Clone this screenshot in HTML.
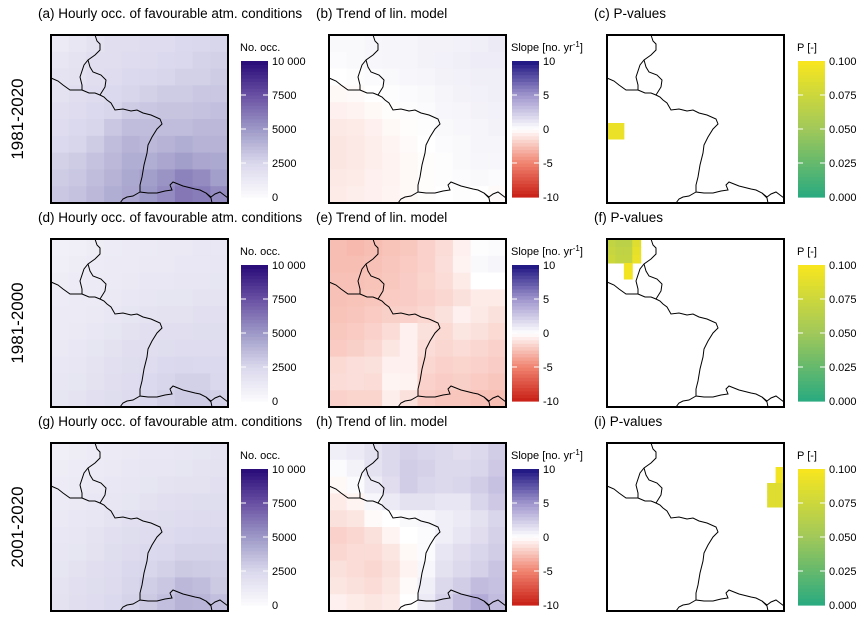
<!DOCTYPE html>
<html><head><meta charset="utf-8">
<style>
body{margin:0;background:#fff;width:862px;height:619px;overflow:hidden;font-family:"Liberation Sans",sans-serif;}
svg{display:block}
</style></head>
<body>
<svg id="fig" width="862" height="619" viewBox="0 0 862 619" xmlns="http://www.w3.org/2000/svg"></svg>
<script>
// ---------- data ----------
const periods = ["1981-2020","1981-2000","2001-2020"];
const occTicks = [0,2500,5000,7500,10000];
const occTickLabels = ["0","2500","5000","7500","10 000"];
const slopeTicks = [-10,-5,0,5,10];
const pTicks = [0,0.025,0.05,0.075,0.1];
const pTickLabels = ["0.000","0.025","0.050","0.075","0.100"];
// occurrences (hundreds), 10x10 grid, row 0 = top
const occ1 = [
[12,15,18,20,20,22,22,24,25,26],
[15,17,20,20,22,23,24,25,27,28],
[17,18,20,22,24,25,26,28,28,30],
[18,20,22,24,26,28,30,30,32,32],
[20,22,24,26,30,32,33,33,34,35],
[22,24,26,32,36,36,36,36,38,38],
[24,26,30,36,40,38,40,42,40,40],
[28,30,34,38,42,42,45,48,45,44],
[30,32,36,40,44,48,52,58,55,48],
[32,34,38,42,45,50,55,62,60,55]];
const occ2 = [
[8,9,10,11,12,12,13,13,14,14],
[9,10,11,12,12,13,13,14,14,15],
[10,11,12,12,13,14,14,15,15,16],
[11,12,12,13,14,15,16,16,17,17],
[12,12,13,14,16,17,18,18,19,19],
[12,13,14,16,18,19,20,20,21,21],
[13,14,16,18,20,20,21,22,22,22],
[14,15,17,19,21,22,24,25,24,24],
[15,16,18,20,22,24,26,28,28,25],
[16,17,19,21,23,25,28,30,30,28]];
const occ3 = [
[9,10,11,12,13,14,14,15,16,17],
[10,11,12,13,14,15,15,16,17,18],
[11,12,13,14,15,16,17,18,18,19],
[12,13,14,15,16,18,19,20,21,21],
[13,14,15,17,19,20,21,22,23,23],
[14,15,17,19,21,22,23,24,25,25],
[15,16,18,21,23,24,25,27,27,27],
[16,18,20,22,25,26,28,31,30,29],
[17,19,21,23,26,29,32,38,36,31],
[18,20,22,24,27,31,35,40,39,35]];
// slopes (no./yr), 10x10 grid
const slope1 = [
[0.3,0.3,0.4,0.5,0.5,0.6,0.6,0.7,0.8,1.0],
[0.2,0.3,0.4,0.5,0.5,0.6,0.7,0.8,0.9,0.9],
[0.0,0.1,0.2,0.3,0.4,0.5,0.6,0.7,0.8,0.8],
[-0.3,-0.2,0.0,0.1,0.2,0.3,0.5,0.6,0.7,0.8],
[-0.6,-0.5,-0.3,-0.1,0.1,0.2,0.4,0.5,0.6,0.7],
[-0.9,-0.8,-0.6,-0.3,-0.1,0.1,0.3,0.4,0.5,0.6],
[-1.0,-0.9,-0.7,-0.4,-0.2,0.0,0.2,0.3,0.5,0.5],
[-1.0,-0.9,-0.7,-0.5,-0.3,-0.1,0.1,0.3,0.4,0.4],
[-0.9,-0.8,-0.6,-0.5,-0.3,-0.1,0.1,0.2,0.3,0.2],
[-0.8,-0.7,-0.6,-0.4,-0.3,-0.1,0.0,0.1,0.0,-0.2]];
const slope2 = [
[-2.6,-2.8,-2.6,-2.4,-2.2,-1.8,-1.4,-0.6,0.1,0.2],
[-2.6,-2.6,-2.5,-2.3,-2.1,-1.8,-1.3,-0.5,0.3,0.5],
[-2.5,-2.5,-2.4,-2.2,-2.0,-1.7,-1.4,-0.8,0.0,0.0],
[-2.5,-2.4,-2.3,-2.1,-2.0,-1.8,-1.6,-1.2,-0.8,-0.8],
[-2.4,-2.3,-2.1,-1.9,-1.8,-1.6,-1.2,-0.6,-0.9,-1.2],
[-2.2,-2.1,-1.8,-1.4,-0.6,-1.2,-1.5,-1.0,-1.2,-1.5],
[-2.1,-1.9,-1.6,-1.0,-0.6,-1.4,-1.6,-1.4,-1.6,-1.8],
[-1.5,-1.3,-1.2,-0.6,-0.6,-1.6,-1.8,-1.7,-1.8,-2.0],
[-1.4,-1.3,-1.4,-0.4,-0.5,-1.8,-2.0,-1.9,-2.1,-2.3],
[-1.8,-1.7,-1.7,-0.7,-1.2,-2.1,-2.3,-2.3,-2.5,-2.6]];
const slope3 = [
[0.8,1.0,1.4,1.8,2.2,2.0,1.8,1.6,1.8,2.4],
[0.2,0.6,1.4,1.8,2.4,2.2,1.8,1.8,2.0,2.6],
[-0.3,0.2,1.0,1.6,2.4,2.0,1.8,2.0,2.4,3.0],
[-0.8,-0.4,0.4,1.0,1.4,1.4,1.2,1.2,2.0,2.6],
[-1.2,-1.0,-0.2,0.0,0.3,0.4,0.8,1.0,1.4,2.0],
[-1.8,-1.6,-1.2,-0.4,0.0,0.2,0.8,1.2,1.6,2.2],
[-1.6,-1.4,-1.4,-1.0,-0.3,0.2,1.2,1.6,2.0,2.4],
[-1.2,-1.4,-1.6,-1.2,-0.5,0.4,1.4,1.8,2.2,2.8],
[-1.0,-1.2,-1.4,-1.0,-0.2,0.8,1.8,2.4,3.2,3.0],
[-0.6,-0.8,-1.0,-0.8,0.0,1.0,2.2,3.2,4.0,3.2]];
// significant p-values on 21x21 grid: [col,row,p]
const pCells1 = [[0,11,0.092],[1,11,0.092],[0,12,0.092],[1,12,0.092]];
const pCells2 = [[0,0,0.07],[1,0,0.065],[2,0,0.065],[3,0,0.085],
 [0,1,0.072],[1,1,0.068],[2,1,0.068],[3,1,0.09],
 [0,2,0.075],[1,2,0.07],[2,2,0.07],[3,2,0.092],
 [2,3,0.097],[2,4,0.097]];
const pCells3 = [[20,3,0.097],[20,4,0.097],[19,5,0.085],[20,5,0.085],[19,6,0.085],[20,6,0.085],[19,7,0.085],[20,7,0.085]];

// ---------- helpers ----------
const NS="http://www.w3.org/2000/svg";
const fig=document.getElementById('fig');
function mk(tag,attrs,parent){const e=document.createElementNS(NS,tag);for(const k in attrs)e.setAttribute(k,attrs[k]);(parent||fig).appendChild(e);return e;}
function lerp(a,b,t){return a.map((v,i)=>Math.round(v+(b[i]-v)*t));}
function ramp(stops,t){t=Math.max(0,Math.min(1,t));for(let i=1;i<stops.length;i++){if(t<=stops[i][0]){const s=stops[i-1],e=stops[i];return lerp(s[1],e[1],(t-s[0])/(e[0]-s[0]));}}return stops[stops.length-1][1];}
const purp=[[0,[252,251,253]],[0.25,[218,216,236]],[0.5,[158,154,200]],[0.75,[106,81,163]],[1,[40,10,120]]];
const rdbu=[[0,[200,30,20]],[0.25,[240,130,110]],[0.5,[255,255,255]],[0.75,[160,150,205]],[1,[30,20,130]]];
const vir=[[0,[40,170,128]],[0.5,[160,200,90]],[1,[248,230,30]]];
function rgb(c){return `rgb(${c[0]},${c[1]},${c[2]})`;}
function occCol(v){return rgb(ramp(purp,v*100/10000));}
function slopeCol(v){return rgb(ramp(rdbu,(v+10)/20));}
function pCol(v){return rgb(ramp(vir,v/0.1));}

const colX=[51,329,607], BW=177, BH=168;
const rowY=[35,239,443];
const letters=[["a","b","c"],["d","e","f"],["g","h","i"]];
const titles=["Hourly occ. of favourable atm. conditions","Trend of lin. model","P-values"];
const occData=[occ1,occ2,occ3], slopeData=[slope1,slope2,slope3], pData=[pCells1,pCells2,pCells3];

const borderLines=[
 [[44,0],[46,6],[49,9],[49,15],[44,20],[37,25],[33,30],[29,42],[31,50],[31,55],[25,55],[19,55],[12,50],[7,46],[0,43]],
 [[37,25],[39,32],[42,37],[50,40],[55,45],[54,52],[49,60],[53,62],[56,65],[60,68],[64,75],[72,74],[80,76],[86,75],[92,78],[100,80],[109,84],[111,89],[106,94],[101,102],[97,110],[96,118],[93,130],[91,142],[89,150],[89,157],[97,158],[106,158],[114,156],[121,155],[119,150],[122,147],[127,149],[132,151],[136,152],[144,154],[149,155],[155,158],[160,162],[164,159],[169,157],[173,160],[177,163]],
 [[31,55],[38,58],[44,58],[49,60]],
 [[69,168],[72,164],[76,162],[82,161],[89,157]],
 [[155,158],[160,163],[161,168]]
];

function drawBorders(g){
  borderLines.forEach((ln,i)=>{
    const p=mk('polyline',{points:ln.map(q=>q.join(',')).join(' '),fill:'none',stroke:'#000','stroke-width':1},g);
    
    
  });
}

function colorbar(x,y0,kind,ticks,labels,title,r){
  const g=mk('g',{});
  
  
  const top=y0+26,bot=y0+162,w=27,h=bot-top;
  const n=40;
  for(let i=0;i<n;i++){
    const t=(i+0.5)/n;let c;
    if(kind==='occ')c=rgb(ramp(purp,t));else if(kind==='slope')c=rgb(ramp(rdbu,t));else c=rgb(ramp(vir,t));
    mk('rect',{x:x,y:bot-(i+1)*h/n,width:w,height:h/n+0.6,fill:c},g);
  }
  const tl=mk('text',{x:x-1,y:y0+16,'font-size':11,fill:'#000'},g);
  
  
  if(kind==='slope'){tl.innerHTML='Slope [no. yr<tspan dy="-4" font-size="8">-1</tspan><tspan dy="4">]</tspan>';}
  else tl.textContent=title;
  const lo=ticks[0],hi=ticks[ticks.length-1];
  ticks.forEach((tv,i)=>{
    const yy=bot-(tv-lo)/(hi-lo)*h;
    if(i>0&&i<ticks.length-1){
      mk('line',{x1:x,x2:x+5,y1:yy,y2:yy,stroke:'#fff','stroke-width':1},g);
      mk('line',{x1:x+w-5,x2:x+w,y1:yy,y2:yy,stroke:'#fff','stroke-width':1},g);
    }
    const t=mk('text',{x:x+w+4,y:yy+4,'font-size':11,fill:'#000'},g);
    
    
    t.textContent=labels[i];
  });
}

for(let r=0;r<3;r++){
  const y0=rowY[r];
  const rl=mk('text',{x:0,y:0,'font-size':17,fill:'#000','text-anchor':'middle',transform:`translate(23,${y0+BH/2}) rotate(-90)`});
  
  
  rl.textContent=periods[r];
  for(let c=0;c<3;c++){
    const x0=colX[c];
    const tt=mk('text',{x:x0-13,y:y0-17,'font-size':13.5,fill:'#000'});
    
    
    tt.textContent='('+letters[r][c]+') '+titles[c];
    const g=mk('g',{transform:`translate(${x0},${y0})`});
    
    
    mk('rect',{x:0,y:0,width:BW,height:BH,fill:'#fff'},g);
    if(c<2){
      const data=c===0?occData[r]:slopeData[r];
      const nr=data.length,nc=data[0].length,cw=BW/nc,ch=BH/nr;
      data.forEach((row,i)=>row.forEach((v,j)=>{
        const cell=mk('rect',{x:j*cw,y:i*ch,width:cw+0.5,height:ch+0.5,fill:c===0?occCol(v):slopeCol(v)},g);
        
        
      }));
    } else {
      const cw=BW/21,ch=BH/21;
      pData[r].forEach(d=>{
        const cell=mk('rect',{x:d[0]*cw,y:d[1]*ch,width:cw+0.5,height:ch+0.5,fill:pCol(d[2])},g);
        
        
      });
    }
    drawBorders(g);
    mk('rect',{x:0,y:0,width:BW,height:BH,fill:'none',stroke:'#000','stroke-width':2},g);
    if(c===0)colorbar(241,y0,'occ',occTicks,occTickLabels,'No. occ.',r);
    else if(c===1)colorbar(512,y0,'slope',slopeTicks,slopeTicks.map(String),'Slope',r);
    else colorbar(798,y0,'p',pTicks,pTickLabels,'P [-]',r);
  }
}
</script>
</body></html>
